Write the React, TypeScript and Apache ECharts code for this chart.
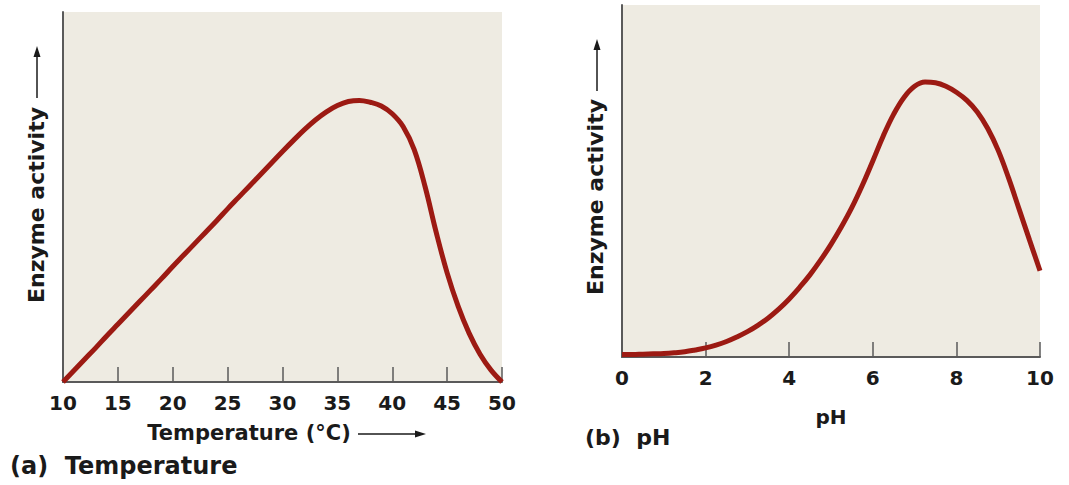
import { useEffect, useRef } from "react";
import * as echarts from "echarts";

const tempTicks = [10, 15, 20, 25, 30, 35, 40, 45, 50];
const tempX = [
  10, 11, 12, 13, 14, 15, 16, 17, 18, 19, 20, 21, 22, 23, 24, 25, 26, 27, 28, 29, 30,
  31, 32, 33, 34, 35, 36, 37, 38, 39, 40, 41, 42, 43, 44, 45, 46, 47, 48, 49, 50,
];
const tempActivity = [
  0, 3.1, 6.2, 9.3, 12.5, 15.6, 18.7, 21.8, 24.9, 28.0, 31.2, 34.3, 37.4, 40.5, 43.6, 46.8, 49.9, 53.0, 56.1, 59.2, 62.3,
  65.3, 68.2, 70.8, 73.0, 74.7, 75.8, 76.1, 75.6, 74.6, 72.5, 69.0, 62.8, 52.7, 40.5, 29.5, 20.5, 13.2, 7.5, 3.2, 0,
];

const phTicks = [0, 2, 4, 6, 8, 10];
const phX = [
  0, 0.25, 0.5, 0.75, 1, 1.25, 1.5, 1.75, 2, 2.25, 2.5, 2.75, 3, 3.25, 3.5, 3.75, 4, 4.25, 4.5, 4.75,
  5, 5.25, 5.5, 5.75, 6, 6.25, 6.5, 6.75, 7, 7.25, 7.5, 7.75, 8, 8.25, 8.5, 8.75, 9, 9.25, 9.5, 9.75, 10,
];
const phActivity = [
  0.7, 0.7, 0.8, 0.9, 1.0, 1.2, 1.5, 2.0, 2.6, 3.4, 4.4, 5.7, 7.2, 9.0, 11.1, 13.6, 16.5, 19.8, 23.4, 27.5,
  32.0, 37.0, 42.5, 48.8, 55.7, 62.8, 69.0, 73.8, 76.9, 78.1, 77.9, 76.9, 75.2, 72.9, 69.6, 64.9, 58.7, 50.8, 42.0, 33.2, 24.5,
];

const FONT = "DejaVu Sans";
const AXIS_COLOR = "#5a5a5a";
const CURVE_COLOR = "#9c1a13";
const BG = "#eeebe2";
const TEXT = "#1a1a1a";

function xAxisOf(gridIndex: number, ticks: number[]) {
  const step = ticks[1] - ticks[0];
  return {
    type: "value" as const,
    gridIndex,
    min: ticks[0],
    max: ticks[ticks.length - 1],
    interval: step,
    axisLine: { show: true, onZero: false, lineStyle: { color: AXIS_COLOR, width: 2 } },
    axisTick: { show: true, inside: true, length: 15, lineStyle: { color: AXIS_COLOR, width: 1.5 } },
    axisLabel: {
      show: true,
      margin: 11,
      fontFamily: FONT,
      fontWeight: "bold" as const,
      fontSize: 20,
      color: TEXT,
      showMinLabel: true,
      showMaxLabel: true,
    },
    splitLine: { show: false },
  };
}

function yAxisOf(gridIndex: number) {
  return {
    type: "value" as const,
    gridIndex,
    min: 0,
    max: 100,
    axisLine: { show: true, onZero: false, lineStyle: { color: AXIS_COLOR, width: 2 } },
    axisTick: { show: false },
    axisLabel: { show: false },
    splitLine: { show: false },
  };
}

function arrowUp(x: number, yBottom: number, yTip: number) {
  return [
    { type: "line", shape: { x1: x, y1: yBottom, x2: x, y2: yTip + 8 }, style: { stroke: TEXT, lineWidth: 1.5 } },
    { type: "polygon", shape: { points: [[x, yTip], [x - 3.5, yTip + 11], [x + 3.5, yTip + 11]] }, style: { fill: TEXT } },
  ];
}

function arrowRight(xStart: number, xTip: number, y: number) {
  return [
    { type: "line", shape: { x1: xStart, y1: y, x2: xTip - 8, y2: y }, style: { stroke: TEXT, lineWidth: 1.5 } },
    { type: "polygon", shape: { points: [[xTip, y], [xTip - 11, y - 3.5], [xTip - 11, y + 3.5]] }, style: { fill: TEXT } },
  ];
}

function label(text: string, x: number, y: number, fontSize: number, align: string, rotation = 0) {
  return {
    type: "text",
    x,
    y,
    rotation,
    style: {
      text,
      fontFamily: FONT,
      fontWeight: "bold",
      fontSize,
      fill: TEXT,
      align,
      verticalAlign: "middle",
    },
  };
}

export default function App() {
  const ref = useRef<HTMLDivElement>(null);

  useEffect(() => {
    if (!ref.current) return;
    const chart = echarts.init(ref.current, undefined, { renderer: "svg" });
    chart.setOption({
      animation: false,
      backgroundColor: "#ffffff",
      grid: [
        { left: 63, top: 12, width: 439, height: 370, show: true, backgroundColor: BG, borderWidth: 0 },
        { left: 622, top: 5, width: 418, height: 352, show: true, backgroundColor: BG, borderWidth: 0 },
      ],
      xAxis: [xAxisOf(0, tempTicks), xAxisOf(1, phTicks)],
      yAxis: [yAxisOf(0), yAxisOf(1)],
      series: [
        {
          type: "line",
          xAxisIndex: 0,
          yAxisIndex: 0,
          data: tempX.map((x, i) => [x, tempActivity[i]]),
          smooth: 0.4,
          symbol: "none",
          lineStyle: { color: CURVE_COLOR, width: 5 },
        },
        {
          type: "line",
          xAxisIndex: 1,
          yAxisIndex: 1,
          data: phX.map((x, i) => [x, phActivity[i]]),
          smooth: 0.4,
          symbol: "none",
          lineStyle: { color: CURVE_COLOR, width: 5 },
        },
      ],
      graphic: [
        label("Enzyme activity", 36, 205, 22, "center", Math.PI / 2),
        ...arrowUp(37, 98, 46),
        label("Enzyme activity", 595, 197, 22, "center", Math.PI / 2),
        ...arrowUp(597, 91, 39),
        label("Temperature (°C)", 249, 433, 21, "center"),
        ...arrowRight(358, 426, 434),
        label("(a)  Temperature", 10, 466, 24, "left"),
        label("pH", 831, 417, 20, "center"),
        label("(b)  pH", 585, 437, 22, "left"),
      ],
    });
    return () => chart.dispose();
  }, []);

  return (
    <div
      ref={ref}
      style={{ position: "absolute", left: 0, top: 0, width: 1069, height: 485 }}
    />
  );
}
